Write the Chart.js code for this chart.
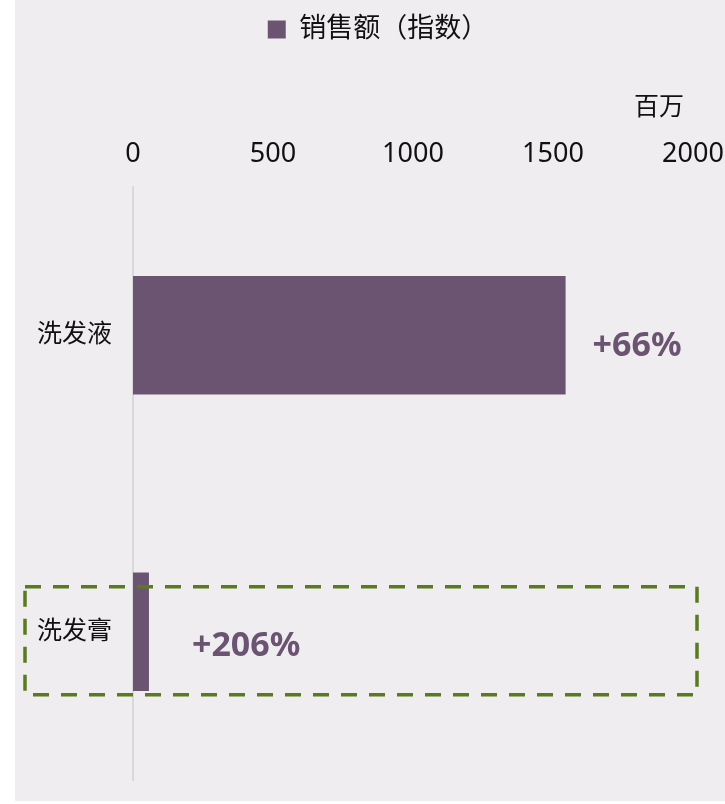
<!DOCTYPE html>
<html>
<head>
<meta charset="utf-8">
<script src="https://cdn.jsdelivr.net/npm/chart.js@4/dist/chart.umd.min.js"></script>
<style>
html,body{margin:0;padding:0;background:#ffffff;}
#wrap{width:725px;height:804px;position:relative;}
</style>
</head>
<body>
<div id="wrap"><canvas id="c" width="725" height="804"></canvas></div>
<script>
// ---- data ----
const categories = ['洗发液', '洗发膏'];
const salesValues = [1545, 57];
const growthLabels = ['+66%', '+206%'];
const seriesName = '销售额（指数）';
const unitLabel = '百万';
const axisMin = 0;
const axisMax = 2000;
const axisStep = 500;
const highlightIndex = 1;

// ---- styles ----
const FONT = "'Noto Sans', 'Noto Sans CJK SC', sans-serif";
const BAR_COLOR = '#6b5472';
const PANEL_COLOR = '#efedf0';
const GREEN = '#5b7a1f';
const TEXT = '#111111';

const panelPlugin = {
  id: 'panelBg',
  beforeDraw(chart) {
    const ctx = chart.ctx;
    ctx.save();
    ctx.fillStyle = PANEL_COLOR;
    ctx.fillRect(15, 0, 710, 801);
    ctx.restore();
  }
};

const unitPlugin = {
  id: 'unitLabel',
  afterDraw(chart, args, opts) {
    const ctx = chart.ctx;
    const xs = chart.scales.x;
    ctx.save();
    ctx.font = '25px ' + FONT;
    ctx.fillStyle = TEXT;
    ctx.textAlign = 'right';
    ctx.textBaseline = 'middle';
    ctx.fillText(unitLabel, xs.getPixelForValue(axisMax) + opts.dx, chart.chartArea.top + opts.dy);
    ctx.restore();
  }
};

const growthPlugin = {
  id: 'growthLabels',
  afterDatasetsDraw(chart, args, opts) {
    const ctx = chart.ctx;
    const meta = chart.getDatasetMeta(0);
    ctx.save();
    ctx.font = 'bold 34px ' + FONT;
    ctx.fillStyle = BAR_COLOR;
    ctx.textAlign = 'left';
    ctx.textBaseline = 'middle';
    meta.data.forEach((bar, i) => {
      const off = opts.offsets[i];
      ctx.fillText(growthLabels[i], bar.x + off[0], bar.y + off[1]);
    });
    ctx.restore();
  }
};

const highlightPlugin = {
  id: 'highlightBox',
  afterDatasetsDraw(chart) {
    const ctx = chart.ctx;
    const area = chart.chartArea;
    const yc = chart.scales.y.getPixelForValue(highlightIndex);
    ctx.save();
    ctx.strokeStyle = GREEN;
    ctx.lineWidth = 3.5;
    ctx.setLineDash([16, 12]);
    const left = area.left - 108, right = area.right + 4;
    const top = yc - 45, bottom = yc + 63;
    ctx.strokeRect(left, top, right - left, bottom - top);
    ctx.restore();
  }
};

new Chart(document.getElementById('c'), {
  type: 'bar',
  data: {
    labels: categories,
    datasets: [{
      label: seriesName,
      data: salesValues,
      backgroundColor: BAR_COLOR,
      borderWidth: 0,
      categoryPercentage: 0.4,
      barPercentage: 1.0
    }]
  },
  options: {
    indexAxis: 'y',
    responsive: false,
    animation: false,
    devicePixelRatio: 1,
    layout: { padding: { left: 31, right: 0, top: 6, bottom: 24 } },
    plugins: {
      legend: {
        display: true,
        position: 'top',
        labels: {
          boxWidth: 18,
          boxHeight: 18,
          padding: 10,
          color: TEXT,
          font: { family: FONT, size: 27 }
        }
      },
      tooltip: { enabled: false },
      growthLabels: { offsets: [[27, 11], [43, 14.5]] },
      unitLabel: { dx: -9, dy: -79 }
    },
    scales: {
      x: {
        position: 'top',
        min: axisMin,
        max: axisMax,
        grid: { display: false },
        border: { display: false },
        ticks: {
          stepSize: axisStep,
          color: TEXT,
          padding: 8,
          font: { family: FONT, size: 27 },
          callback: (v) => String(v)
        },
        afterFit(scale) {
          const lg = scale.chart.legend;
          const lh = lg ? lg.height : 0;
          scale.height = 187 - 6 - lh;
          scale.paddingLeft = 0;
          scale.paddingRight = 32;
        }
      },
      y: {
        grid: { display: false, drawTicks: false },
        border: { display: true, color: '#d9d9d9', width: 2 },
        ticks: {
          color: TEXT,
          padding: 21,
          font: { family: FONT, size: 25 }
        },
        afterFit(scale) {
          scale.width = 102;
          scale.paddingTop = 0;
          scale.paddingBottom = 0;
        }
      }
    }
  },
  plugins: [panelPlugin, unitPlugin, growthPlugin, highlightPlugin]
});
</script>
</body>
</html>
